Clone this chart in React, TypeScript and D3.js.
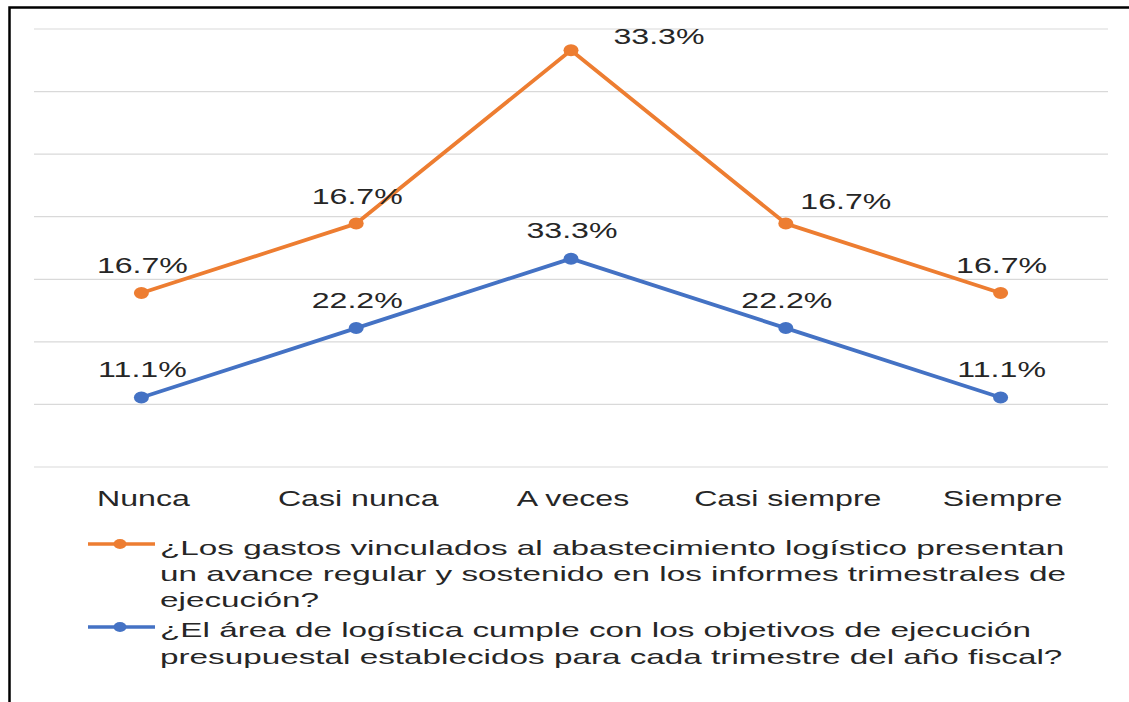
import React from "react";
import * as d3 from "d3";

const categories = ["Nunca", "Casi nunca", "A veces", "Casi siempre", "Siempre"];
const blueValues = [11.1, 22.2, 33.3, 22.2, 11.1];
const orangeValues = [16.7, 16.7, 33.3, 16.7, 16.7];
const yTicks = [0, 10, 20, 30, 40, 50, 60, 70];
const orangeLegend = [
  "¿Los gastos vinculados al abastecimiento logístico presentan",
  "un avance regular y sostenido en los informes trimestrales de",
  "ejecución?",
];
const blueLegend = [
  "¿El área de logística cumple con los objetivos de ejecución",
  "presupuestal establecidos para cada trimestre del año fiscal?",
];

const ORANGE = "#ED7D31";
const BLUE = "#4472C4";
const TEXT = "#262626";
const FONT = "'Liberation Sans', Arial, sans-serif";
const SX = 1.46; // horizontal stretch of the reference image
const SX_LEGEND = 1.585;

// label nudges for the orange series (index -> [dx, dy])
const orangeNudge: Record<number, [number, number]> = { 2: [87, 14], 3: [59, 5] };

export default function App() {
  const W = 1129, H = 702;
  const x = d3.scalePoint<string>().domain(categories).range([34, 1108]).padding(0.5);
  const y = d3.scaleLinear().domain([0, 70]).range([467, 29]);

  const blueCum = blueValues;
  const orangeCum = orangeValues.map((v, i) => v + blueValues[i]);

  const line = d3
    .line<number>()
    .x((_, i) => x(categories[i])!)
    .y((d) => y(d));

  const stretchedText = (
    key: string,
    tx: number,
    ty: number,
    text: string,
    size: number,
    anchor: "start" | "middle" = "middle",
    sx: number = SX
  ) => (
    <text
      key={key}
      transform={`translate(${tx},${ty}) scale(${sx},1)`}
      textAnchor={anchor}
      fontSize={size}
      fontFamily={FONT}
      fill={TEXT}
    >
      {text}
    </text>
  );

  return (
    <svg
      width={W}
      height={H}
      style={{ position: "absolute", left: 0, top: 0, background: "#fff" }}
    >
      <rect x={0} y={0} width={W} height={H} fill="#fff" />
      {/* outer frame */}
      <path d={`M9.5,${H + 5} V7.5 H${W + 5}`} fill="none" stroke="#000" strokeWidth={2.5} />

      {/* gridlines */}
      {yTicks.map((t) => (
        <line key={t} x1={34} x2={1108} y1={y(t)} y2={y(t)} stroke="#d9d9d9" strokeWidth={1.2} />
      ))}

      {/* series lines */}
      <path d={line(orangeCum)!} fill="none" stroke={ORANGE} strokeWidth={3.8} strokeLinejoin="round" />
      <path d={line(blueCum)!} fill="none" stroke={BLUE} strokeWidth={3.8} strokeLinejoin="round" />

      {orangeCum.map((v, i) => (
        <ellipse key={"om" + i} cx={x(categories[i])} cy={y(v)} rx={7.5} ry={6} fill={ORANGE} />
      ))}
      {blueCum.map((v, i) => (
        <ellipse key={"bm" + i} cx={x(categories[i])} cy={y(v)} rx={7.5} ry={6} fill={BLUE} />
      ))}

      {/* data labels */}
      {orangeValues.map((v, i) => {
        const [dx, dy] = orangeNudge[i] || [0, 0];
        return stretchedText(
          "ol" + i,
          x(categories[i])! + 1 + dx,
          y(orangeCum[i]) - 20 + dy,
          `${v.toFixed(1)}%`,
          22
        );
      })}
      {blueValues.map((v, i) =>
        stretchedText("bl" + i, x(categories[i])! + 1, y(blueCum[i]) - 20.5, `${v.toFixed(1)}%`, 22)
      )}

      {/* category axis labels */}
      {categories.map((c) => stretchedText("c" + c, x(c)! + 2, 506, c, 22))}

      {/* legend */}
      <line x1={88} x2={155} y1={544} y2={544} stroke={ORANGE} strokeWidth={3.5} />
      <ellipse cx={120} cy={544} rx={6.5} ry={5} fill={ORANGE} />
      {orangeLegend.map((t, i) =>
        stretchedText("olg" + i, 160, 555 + i * 26, t, 21, "start", SX_LEGEND)
      )}
      <line x1={88} x2={155} y1={627} y2={627} stroke={BLUE} strokeWidth={3.5} />
      <ellipse cx={120} cy={627} rx={6.5} ry={5} fill={BLUE} />
      {blueLegend.map((t, i) =>
        stretchedText("blg" + i, 160, 637 + i * 27, t, 21, "start", SX_LEGEND)
      )}
    </svg>
  );
}
